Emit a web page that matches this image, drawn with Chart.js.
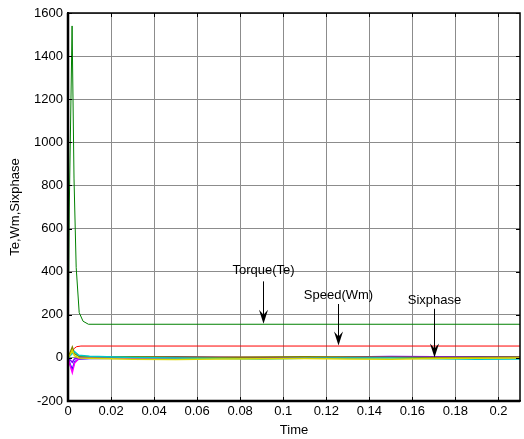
<!DOCTYPE html>
<html>
<head>
<meta charset="utf-8">
<script src="https://cdn.jsdelivr.net/npm/chart.js@4"></script>
<style>
  html, body { margin: 0; padding: 0; background: #fff; }
  #wrap { width: 524px; height: 439px; }
</style>
</head>
<body>
<div id="wrap"><canvas id="chart1"></canvas></div>
<script>
// time axis (s) for each series
const tGreen = [0, 0.0006, 0.0019, 0.0028, 0.0038, 0.0052, 0.007, 0.0095, 0.21];
const torqueVals = [0, 700, 1540, 830, 420, 210, 170, 156, 156];

const tRed = [0, 0.001, 0.002, 0.003, 0.004, 0.006, 0.21];
const speedVals = [0, 12, 30, 45, 52, 55, 55];

const tSmall = [0, 0.001, 0.002, 0.003, 0.005, 0.01, 0.03, 0.05, 0.07, 0.09, 0.11, 0.13, 0.15, 0.17, 0.19, 0.21];
const phaseA = [0, -30, -55, -20, -5, -3, -2, -1, 0, 1, 2, 0, 3, 4, 5, 4];
const phaseB = [0, -35, -68, -25, -3, -2, 0, 2, 3, 2, 1, 2, 4, 3, 2, 3];
const phaseC = [0, 25, 50, 20, 8, 5, 5, 4, 3, 4, 5, 4, 3, 2, 3, 4];
const phaseD = [0, 10, 20, 30, 12, 8, 2, 0, -3, -5, -2, 0, -1, -4, -6, -5];
const phaseE = [0, 15, 35, 10, 0, -2, -6, -7, -5, -4, -3, -5, -6, -3, -2, -1];
const phaseF = [0, -10, -20, -5, 0, 1, 3, 5, 2, 0, -1, 4, 6, 5, 3, 2];

const xTicks = [0, 0.02, 0.04, 0.06, 0.08, 0.1, 0.12, 0.14, 0.16, 0.18, 0.2];
const yTicks = [-200, 0, 200, 400, 600, 800, 1000, 1200, 1400, 1600];

// text labels with arrows, in data units
const notes = [
    { text: 'Torque(Te)', x: 0.0904, textY: 405, from: 355, to: 158 },
    { text: 'Speed(Wm)', x: 0.1254, textY: 290, from: 250, to: 57 },
    { text: 'Sixphase', x: 0.170, textY: 268, from: 228, to: 2 },
];

const toPts = (ts, vs) => ts.map((t, i) => ({ x: t, y: vs[i] }));

const line = (label, ts, vs, color, w) => ({
    label: label,
    data: toPts(ts, vs),
    borderColor: color,
    backgroundColor: 'transparent',
    borderWidth: w || 1,
    pointRadius: 0,
    tension: 0,
});

const FONT = '"Liberation Sans", Arial, sans-serif';

const arrowNotes = {
    id: 'arrowNotes',
    afterDatasetsDraw(chart) {
        const ctx = chart.ctx;
        const xs = chart.scales.x, ys = chart.scales.y;
        ctx.save();
        ctx.fillStyle = '#000';
        ctx.strokeStyle = '#000';
        ctx.lineWidth = 1;
        ctx.font = '13px ' + FONT;
        ctx.textAlign = 'center';
        ctx.textBaseline = 'middle';
        notes.forEach(n => {
            const px = Math.round(xs.getPixelForValue(n.x)) + 0.5;
            ctx.fillText(n.text, px, ys.getPixelForValue(n.textY));
            const y0 = ys.getPixelForValue(n.from);
            const y1 = ys.getPixelForValue(n.to);
            ctx.beginPath();
            ctx.moveTo(px, y0);
            ctx.lineTo(px, y1 - 6);
            ctx.stroke();
            ctx.beginPath();
            ctx.moveTo(px, y1);
            ctx.lineTo(px - 4.5, y1 - 14);
            ctx.lineTo(px, y1 - 9);
            ctx.lineTo(px + 4.5, y1 - 14);
            ctx.closePath();
            ctx.fill();
        });
        ctx.restore();
    }
};

// black box with small inward ticks, like the original plot
const frame = {
    id: 'frame',
    afterDraw(chart) {
        const a = chart.chartArea, ctx = chart.ctx;
        const xs = chart.scales.x, ys = chart.scales.y;
        ctx.save();
        ctx.strokeStyle = '#000';
        ctx.lineWidth = 1;
        ctx.beginPath();
        xTicks.forEach(v => {
            const px = Math.round(xs.getPixelForValue(v)) + 0.5;
            ctx.moveTo(px, a.bottom); ctx.lineTo(px, a.bottom - 4);
            ctx.moveTo(px, a.top); ctx.lineTo(px, a.top + 4);
        });
        yTicks.forEach(v => {
            const py = Math.round(ys.getPixelForValue(v)) + 0.5;
            ctx.moveTo(a.left, py); ctx.lineTo(a.left + 4, py);
            ctx.moveTo(a.right, py); ctx.lineTo(a.right - 4, py);
        });
        ctx.stroke();
        ctx.lineWidth = 1.5;
        ctx.strokeRect(a.left, a.top, a.right - a.left, a.bottom - a.top);
        ctx.lineWidth = 2.5;
        ctx.beginPath();
        ctx.moveTo(a.left, a.top); ctx.lineTo(a.left, a.bottom); ctx.lineTo(a.right, a.bottom);
        ctx.stroke();
        ctx.restore();
    }
};

const font = { family: FONT, size: 13 };

const chart1 = new Chart(document.querySelector('#chart1'), {
    type: 'line',
    data: {
        datasets: [
            line('a', tSmall, phaseE, '#d8d800', 1.5),
            line('b', tSmall, phaseD, '#00c8c8', 1.5),
            line('c', tSmall, phaseC, '#808000', 1.5),
            line('d', tSmall, phaseF, '#8000ff', 1.5),
            line('e', tSmall, phaseB, '#ff00ff', 1.5),
            line('f', tSmall, phaseA, '#0000ff', 1.5),
            line('Speed', tRed, speedVals, '#ff0000'),
            line('Torque', tGreen, torqueVals, '#008000'),
        ]
    },
    options: {
        responsive: true,
        maintainAspectRatio: false,
        animation: false,
        layout: { padding: { top: 13, right: 4, left: 8, bottom: 0 } },
        scales: {
            x: {
                type: 'linear',
                min: 0,
                max: 0.21,
                afterBuildTicks: s => { s.ticks = xTicks.map(v => ({ value: v })); },
                afterFit: s => { s.height = 38; },
                grid: { color: '#8c8c8c', drawTicks: false },
                border: { color: '#000', width: 1.5 },
                ticks: {
                    color: '#000',
                    font: font,
                    padding: 3,
                    maxRotation: 0,
                    callback: v => String(parseFloat(Number(v).toFixed(2))),
                },
                title: {
                    display: true,
                    text: 'Time',
                    color: '#000',
                    font: font,
                    padding: { top: 0, bottom: 1 },
                },
            },
            y: {
                min: -200,
                max: 1600,
                afterBuildTicks: s => { s.ticks = yTicks.map(v => ({ value: v })); },
                afterFit: s => { s.width = 60; },
                grid: { color: '#8c8c8c', drawTicks: false },
                border: { color: '#000', width: 2 },
                ticks: { color: '#000', font: font, padding: 5, callback: v => String(v) },
                title: {
                    display: true,
                    text: 'Te,Wm,Sixphase',
                    color: '#000',
                    font: font,
                    padding: { top: 0, bottom: 0 },
                },
            },
        },
        plugins: {
            legend: { display: false },
            tooltip: { enabled: false },
        }
    },
    plugins: [arrowNotes, frame]
});
</script>
</body>
</html>
